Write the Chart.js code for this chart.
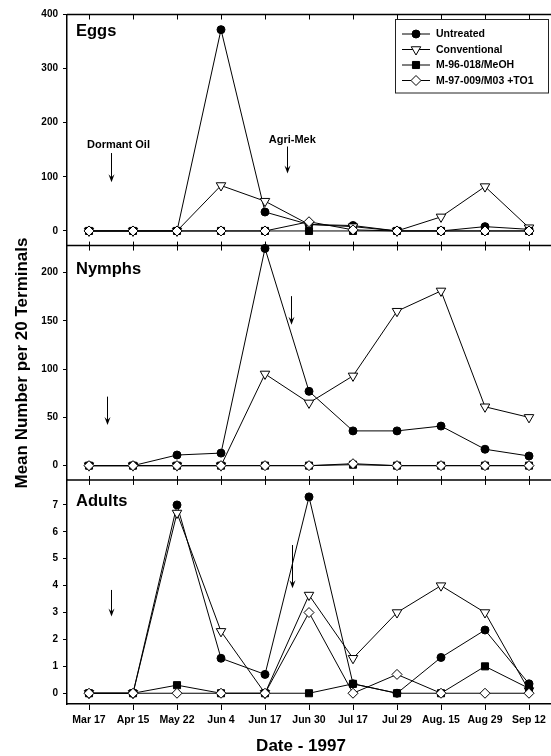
<!DOCTYPE html>
<html><head><meta charset="utf-8">
<script src="https://cdn.jsdelivr.net/npm/chart.js@4/dist/chart.umd.min.js"></script>
<style>html,body{margin:0;padding:0;background:#fff}canvas{display:block}</style>
</head><body>
<canvas id="c" width="551" height="756"></canvas>
<script>
const dates = ['Mar 17','Apr 15','May 22','Jun 4','Jun 17','Jun 30','Jul 17','Jul 29','Aug. 15','Aug 29','Sep 12'];
const seriesNames = ['Untreated','Conventional','M-96-018/MeOH','M-97-009/M03 +TO1'];

const eggsUntreated     = [0,0,0,372,35,12,10,0,0,8,3];
const eggsConventional  = [0,0,0,84,55,12,8,0,26,82,6];
const eggsM96           = [0,0,0,0,0,0,0,0,0,0,0];
const eggsM97           = [0,0,0,0,0,17,2,0,0,0,0];

const nymphsUntreated    = [0,0,11,13,225,77,36,36,41,17,10];
const nymphsConventional = [0,0,0,0,95,65,93,160,181,61,50];
const nymphsM96          = [0,0,0,0,0,0,1,0,0,0,0];
const nymphsM97          = [0,0,0,0,0,0,2,0,0,0,0];

const adultsUntreated    = [0,0,7.0,1.3,0.7,7.3,0.35,0,1.33,2.35,0.35];
const adultsConventional = [0,0,6.7,2.3,0,3.65,1.3,3.0,4.0,3.0,0.1];
const adultsM96          = [0,0,0.3,0,0,0,0.35,0,0,1.0,0.18];
const adultsM97          = [0,0,0,0,0,3.0,0,0.7,0,0,0];

const eggsTicks   = [0,100,200,300,400];
const nymphsTicks = [0,50,100,150,200];
const adultsTicks = [0,1,2,3,4,5,6,7];

const panelNames = ['Eggs','Nymphs','Adults'];
const FONT = '"Liberation Sans", Arial, Helvetica, sans-serif';

const panels = [
  {id:'yEggs',   name:panelNames[0], min:-27, max:400, weight:231,   ticks:eggsTicks,   series:[eggsUntreated,eggsConventional,eggsM96,eggsM97], labelY:17},
  {id:'yNymphs', name:panelNames[1], min:-14.8, max:228, weight:234.3, ticks:nymphsTicks, series:[nymphsUntreated,nymphsConventional,nymphsM96,nymphsM97], labelY:24},
  {id:'yAdults', name:panelNames[2], min:-0.4, max:7.93, weight:224,  ticks:adultsTicks, series:[adultsUntreated,adultsConventional,adultsM96,adultsM97], labelY:22}
];

// annotation arrows (x as category index, y in data units of the panel)
const arrowNotes = [
  {axis:'yEggs',   x:0.51, y1:144, y2:90,  text:'Dormant Oil', tx:0.67, ty:158},
  {axis:'yEggs',   x:4.50, y1:156, y2:106, text:'Agri-Mek',    tx:4.62, ty:168},
  {axis:'yNymphs', x:0.41, y1:71.5, y2:42},
  {axis:'yNymphs', x:4.59, y1:175.6, y2:146},
  {axis:'yAdults', x:0.51, y1:3.84, y2:2.85},
  {axis:'yAdults', x:4.62, y1:5.51, y2:3.9}
];

const seriesStyles = [
  {pointStyle:'circle',   pointRadius:4,   pointBackgroundColor:'#000', order:3},
  {pointStyle:'triangle', pointRotation:180, pointRadius:5.5, pointBackgroundColor:'#fff', order:2},
  {pointStyle:'rect',     pointRadius:5,   pointBackgroundColor:'#000', order:1},
  {pointStyle:'rectRot',  pointRadius:5,   pointBackgroundColor:'#fff', order:0}
];

const datasets = [];
panels.forEach(p => p.series.forEach((d,i) => {
  datasets.push(Object.assign({
    label: seriesNames[i], data: d, yAxisID: p.id,
    borderColor:'#000', borderWidth:1, pointBorderColor:'#000', pointBorderWidth:1,
    clip:false, tension:0, fill:false
  }, seriesStyles[i]));
}));

const scales = {
  x: {
    type:'category', labels: dates, offset:true,
    grid:{display:true, drawOnChartArea:false, drawTicks:true, tickLength:6, color:'#000', lineWidth:1, offset:false},
    border:{display:true, color:'#000', width:1.5},
    ticks:{color:'#000', padding:4, maxRotation:0, autoSkip:false, font:{family:FONT, weight:'bold', size:10.5}},
    afterFit: s => { s.height = 52; s.paddingRight = 0; s.paddingLeft = 0; }
  }
};
// stacked scales are placed bottom-up, so add them in reverse
panels.slice().reverse().forEach(p => {
  scales[p.id] = {
    type:'linear', position:'left', stack:'panels', stackWeight:p.weight,
    min:p.min, max:p.max,
    afterBuildTicks: s => { s.ticks = p.ticks.map(v => ({value:v})); },
    afterFit: s => { s.width = 67; },
    grid:{drawOnChartArea:false, drawTicks:true, tickLength:4, color:'#000', lineWidth:1},
    border:{display:true, color:'#000', width:1.5},
    ticks:{color:'#000', padding:5, font:{family:FONT, weight:'bold', size:10}}
  };
});

const framePlugin = {
  id:'frames',
  beforeDatasetsDraw(chart){
    const ctx = chart.ctx, xs = chart.scales.x, ca = chart.chartArea;
    ctx.save();
    ctx.strokeStyle = '#000';
    panels.forEach(p => {
      const y = chart.scales[p.id].top;
      const isTop = Math.abs(y - ca.top) < 1;
      ctx.lineWidth = 1.5;
      ctx.beginPath(); ctx.moveTo(ca.left, y); ctx.lineTo(ca.right, y); ctx.stroke();
      ctx.lineWidth = 1;
      ctx.beginPath();
      dates.forEach((d,i) => {
        const x = Math.round(xs.getPixelForValue(i)) + 0.5;
        ctx.moveTo(x, isTop ? y : y - 4);
        ctx.lineTo(x, y + 5);
      });
      ctx.stroke();
    });
    ctx.restore();
  },
  afterDraw(chart){
    const ctx = chart.ctx, xs = chart.scales.x, ca = chart.chartArea;
    ctx.save();
    ctx.fillStyle = '#000'; ctx.strokeStyle = '#000';
    // panel labels
    ctx.font = `bold 16.5px ${FONT}`;
    ctx.textAlign = 'left'; ctx.textBaseline = 'middle';
    panels.forEach(p => {
      const s = chart.scales[p.id];
      ctx.fillText(p.name, ca.left + 9, s.top + p.labelY);
    });
    // arrows
    const pos = v => xs.left + (v + 0.5) * (xs.width / dates.length);
    arrowNotes.forEach(a => {
      const s = chart.scales[a.axis];
      const x = Math.round(pos(a.x)) + 0.5, y1 = s.getPixelForValue(a.y1), y2 = s.getPixelForValue(a.y2);
      ctx.lineWidth = 1;
      ctx.beginPath(); ctx.moveTo(x, y1); ctx.lineTo(x, y2 - 3); ctx.stroke();
      ctx.beginPath(); ctx.moveTo(x - 3, y2 - 8); ctx.lineTo(x, y2); ctx.lineTo(x + 3, y2 - 8); ctx.lineTo(x, y2 - 5); ctx.closePath(); ctx.fill();
      if (a.text) {
        ctx.font = `bold 11px ${FONT}`; ctx.textAlign = 'center'; ctx.textBaseline = 'middle';
        ctx.fillText(a.text, pos(a.tx), s.getPixelForValue(a.ty));
      }
    });
    // axis titles
    ctx.font = `bold 17px ${FONT}`; ctx.textAlign = 'center'; ctx.textBaseline = 'middle';
    ctx.fillText('Date - 1997', 301, 746);
    ctx.save(); ctx.translate(22, 363); ctx.rotate(-Math.PI/2);
    ctx.fillText('Mean Number per 20 Terminals', 0, 0);
    ctx.restore();
    // legend
    const bx = 395.5, by = 19.5, bw = 153, bh = 73.5;
    ctx.fillStyle = '#fff'; ctx.fillRect(bx, by, bw, bh);
    ctx.lineWidth = 1; ctx.strokeStyle = '#222'; ctx.strokeRect(bx, by, bw, bh);
    const rows = [34, 49.5, 65, 80.5];
    ctx.font = `bold 10.5px ${FONT}`; ctx.textAlign = 'left'; ctx.textBaseline = 'middle';
    for (let i = 0; i < 4; i++) {
      const ds = chart.data.datasets[i];
      const y = rows[i];
      ctx.strokeStyle = '#000'; ctx.lineWidth = 1;
      ctx.beginPath(); ctx.moveTo(402, y); ctx.lineTo(430, y); ctx.stroke();
      ctx.fillStyle = ds.pointBackgroundColor; ctx.strokeStyle = '#000';
      Chart.helpers.drawPoint(ctx, {pointStyle: ds.pointStyle, radius: ds.pointRadius, rotation: ds.pointRotation || 0, borderWidth: 1}, 416, y);
      ctx.fillStyle = '#000';
      ctx.fillText(ds.label, 436, y + 0.5);
    }
    ctx.restore();
  }
};

new Chart(document.getElementById('c'), {
  type:'line',
  data:{labels: dates, datasets},
  options:{
    responsive:false, animation:false, events:[],
    layout:{autoPadding:false, padding:{top:14.5, left:0, right:0, bottom:0}},
    plugins:{legend:{display:false}, tooltip:{enabled:false}, title:{display:false}},
    scales
  },
  plugins:[framePlugin]
});
</script>
</body></html>
